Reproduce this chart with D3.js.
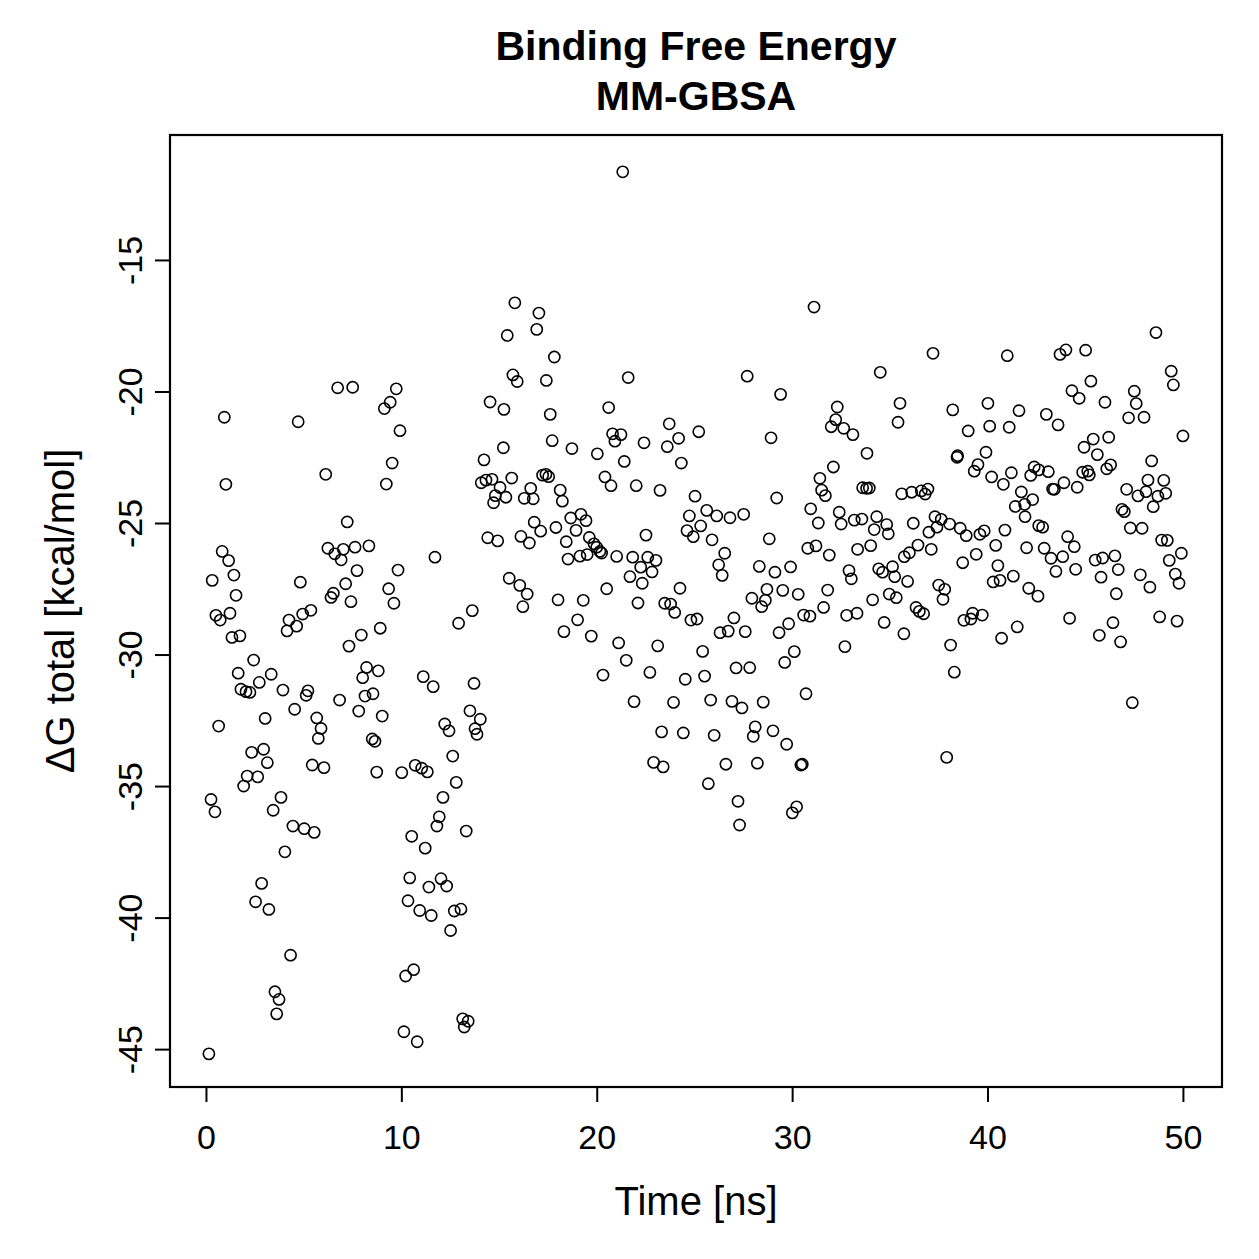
<!DOCTYPE html>
<html><head><meta charset="utf-8">
<script src="https://cdn.jsdelivr.net/npm/d3@7"></script>
<style>body{margin:0;background:#fff}svg{display:block}</style>
</head><body>
<svg id="chart" width="1259" height="1259"></svg>
<script>
// ---- data: [time (ns), ΔG total (kcal/mol)] ----
const segment0to7 = [[0.94,-20.98],[4.72,-21.15],[1.02,-23.53],[6.13,-23.15],[0.83,-26.08],[1.16,-26.43],[1.43,-26.98],[0.32,-27.18],[1.54,-27.75],[1.23,-28.43],[0.51,-28.51],[0.73,-28.69],[1.33,-29.35],[1.74,-29.29],[2.44,-30.21],[1.65,-30.71],[1.79,-31.32],[2.05,-31.41],[2.25,-31.44],[2.73,-31.06],[3.34,-30.75],[3.94,-31.35],[4.54,-32.08],[0.65,-32.72],[3.03,-32.43],[5.22,-31.38],[5.13,-31.55],[6.84,-31.73],[5.67,-32.41],[5.89,-32.81],[5.75,-33.19],[4.83,-27.25],[4.25,-28.69],[4.15,-29.10],[4.64,-28.92],[4.95,-28.46],[5.37,-28.32],[6.24,-25.96],[6.59,-26.17],[6.74,-19.86],[6.40,-27.83],[6.52,-27.67],[6.92,-26.40],[2.34,-33.72],[2.95,-33.60],[3.14,-34.11],[2.11,-34.62],[2.65,-34.65],[1.93,-35.00],[5.44,-34.20],[6.04,-34.30],[0.26,-35.51],[0.46,-35.98],[3.84,-35.43],[3.44,-35.92],[4.45,-36.52],[5.03,-36.62],[5.54,-36.76],[4.04,-37.50],[2.85,-38.70],[2.54,-39.40],[3.22,-39.69],[4.33,-41.43],[3.53,-42.82],[3.74,-43.11],[3.62,-43.66],[0.15,-45.18]];
const segment7to15 = [[7.51,-19.84],[9.74,-19.90],[9.43,-20.41],[9.13,-20.65],[9.93,-21.49],[9.53,-22.72],[9.23,-23.52],[14.54,-20.40],[14.23,-22.60],[14.09,-23.47],[14.33,-23.37],[14.64,-23.34],[14.81,-23.96],[14.72,-24.23],[7.23,-24.96],[14.42,-25.56],[14.93,-25.68],[7.03,-26.00],[7.63,-25.92],[8.34,-25.87],[11.72,-26.30],[7.73,-26.81],[7.15,-27.31],[9.83,-26.79],[9.35,-27.50],[9.62,-28.05],[7.42,-27.99],[8.92,-29.00],[7.95,-29.26],[7.32,-29.68],[13.63,-28.33],[12.93,-28.81],[8.22,-30.49],[8.82,-30.62],[8.02,-30.88],[8.14,-31.58],[8.55,-31.49],[7.82,-32.15],[9.02,-32.34],[11.12,-30.84],[11.63,-31.22],[13.72,-31.10],[13.51,-32.14],[14.04,-32.46],[12.22,-32.64],[12.44,-32.90],[13.77,-32.82],[13.87,-33.03],[8.51,-33.21],[8.65,-33.30],[8.74,-34.47],[10.02,-34.49],[10.71,-34.21],[11.04,-34.32],[11.33,-34.46],[12.63,-33.86],[12.81,-34.86],[12.13,-35.43],[11.94,-36.17],[11.82,-36.52],[13.32,-36.71],[10.53,-36.91],[11.22,-37.36],[10.43,-38.49],[11.41,-38.84],[12.03,-38.52],[12.32,-38.80],[10.34,-39.36],[10.94,-39.73],[11.53,-39.92],[12.71,-39.75],[13.05,-39.68],[12.52,-40.49],[10.63,-41.98],[10.22,-42.22],[13.14,-43.85],[13.42,-43.94],[13.22,-44.16],[10.13,-44.34],[10.81,-44.72]];
const segment15to24 = [[21.33,-11.65],[15.81,-16.63],[17.04,-17.02],[16.93,-17.64],[15.42,-17.87],[17.83,-18.69],[15.71,-19.37],[15.93,-19.62],[17.42,-19.58],[21.61,-19.47],[15.25,-20.68],[17.62,-20.87],[20.61,-20.61],[23.71,-21.23],[23.61,-22.10],[20.81,-21.61],[21.24,-21.64],[20.93,-21.89],[22.42,-21.95],[17.72,-21.87],[18.73,-22.17],[20.03,-22.37],[21.41,-22.66],[15.22,-22.14],[15.65,-23.29],[17.23,-23.18],[17.40,-23.15],[17.54,-23.24],[15.05,-23.65],[15.35,-24.02],[16.62,-23.68],[16.29,-24.06],[16.75,-24.08],[18.13,-23.75],[18.24,-24.17],[20.42,-23.25],[20.73,-23.58],[22.02,-23.58],[23.24,-23.76],[19.19,-24.67],[18.67,-24.81],[19.45,-24.91],[18.94,-25.28],[16.80,-24.97],[17.13,-25.31],[17.91,-25.17],[16.12,-25.51],[16.55,-25.76],[18.44,-25.71],[19.62,-25.55],[19.86,-25.79],[20.00,-25.92],[20.25,-26.14],[20.16,-26.08],[18.53,-26.37],[19.14,-26.26],[19.51,-26.20],[21.02,-26.27],[21.84,-26.30],[22.52,-25.46],[22.61,-26.30],[23.03,-26.42],[22.25,-26.68],[22.83,-26.86],[15.52,-27.10],[16.06,-27.37],[16.44,-27.70],[16.22,-28.18],[18.02,-27.92],[19.31,-27.94],[20.51,-27.50],[21.70,-27.04],[22.33,-27.29],[22.11,-28.04],[23.48,-28.05],[23.78,-28.08],[23.99,-28.40],[19.02,-28.68],[18.32,-29.13],[19.72,-29.30],[21.12,-29.56],[23.12,-29.67],[21.51,-30.22],[20.32,-30.78],[22.72,-30.68],[21.91,-31.79],[23.93,-31.82],[23.32,-32.94],[22.91,-34.10],[23.40,-34.27]];
const segment24to33 = [[31.12,-16.79],[27.70,-19.42],[29.41,-20.11],[25.22,-21.53],[24.19,-21.78],[28.92,-21.76],[32.31,-20.59],[32.23,-21.07],[32.00,-21.34],[32.64,-21.40],[33.11,-21.64],[24.33,-22.72],[32.11,-22.87],[31.42,-23.30],[31.51,-23.75],[31.70,-23.96],[25.03,-23.98],[29.21,-24.05],[24.74,-24.73],[25.63,-24.52],[26.14,-24.73],[26.82,-24.80],[27.52,-24.67],[25.32,-25.11],[24.62,-25.29],[24.94,-25.52],[25.90,-25.64],[26.55,-26.15],[28.83,-25.60],[30.95,-24.46],[31.34,-25.00],[32.41,-24.59],[32.51,-25.04],[33.18,-24.89],[30.80,-25.96],[31.22,-25.87],[31.90,-26.22],[33.35,-26.00],[26.24,-26.59],[26.42,-26.99],[24.26,-27.48],[24.82,-28.69],[25.13,-28.65],[28.32,-26.65],[29.12,-26.87],[29.92,-26.67],[32.91,-26.81],[33.03,-27.12],[27.94,-27.86],[28.71,-27.52],[28.63,-27.94],[28.44,-28.18],[29.52,-27.56],[30.31,-27.71],[31.82,-27.55],[31.61,-28.21],[30.59,-28.50],[30.91,-28.54],[32.79,-28.51],[33.32,-28.43],[27.02,-28.61],[26.31,-29.17],[26.73,-29.11],[27.60,-29.13],[29.82,-28.83],[29.33,-29.17],[32.70,-29.70],[25.42,-29.88],[30.11,-29.89],[29.62,-30.30],[27.13,-30.51],[27.83,-30.50],[24.53,-30.94],[25.52,-30.82],[30.71,-31.49],[25.83,-31.73],[26.92,-31.78],[27.43,-32.03],[28.52,-31.81],[24.43,-32.98],[26.01,-33.07],[28.11,-32.75],[28.01,-33.11],[29.02,-32.90],[29.72,-33.41],[26.61,-34.17],[28.22,-34.13],[30.45,-34.20],[30.52,-34.17],[25.71,-34.91],[27.23,-35.58],[30.23,-35.79],[30.01,-36.02],[27.31,-36.48]];
const segment33to43 = [[37.21,-18.55],[41.01,-18.64],[34.51,-19.27],[35.52,-20.45],[35.42,-21.17],[38.22,-20.70],[40.02,-20.45],[41.61,-20.73],[39.01,-21.50],[40.11,-21.32],[41.11,-21.36],[33.83,-22.35],[39.92,-22.31],[38.47,-22.44],[38.44,-22.50],[39.51,-22.78],[39.32,-23.03],[40.21,-23.25],[41.22,-23.09],[40.81,-23.53],[42.39,-22.87],[42.21,-23.19],[42.62,-22.98],[33.61,-23.66],[33.81,-23.68],[33.95,-23.67],[35.61,-23.89],[36.12,-23.83],[36.61,-23.78],[36.81,-23.90],[36.95,-23.71],[41.73,-23.82],[41.42,-24.37],[41.90,-24.29],[42.31,-24.11],[41.92,-24.76],[33.57,-24.85],[34.33,-24.76],[34.84,-25.06],[34.92,-25.41],[34.20,-25.25],[36.20,-25.01],[37.31,-24.76],[37.63,-24.86],[37.41,-25.16],[37.00,-25.35],[38.06,-25.04],[38.60,-25.20],[38.91,-25.48],[39.61,-25.43],[39.83,-25.30],[40.89,-25.27],[34.02,-25.86],[36.44,-25.84],[37.12,-26.00],[36.00,-26.13],[35.74,-26.28],[40.42,-25.85],[42.00,-25.94],[39.42,-26.19],[38.73,-26.51],[40.53,-26.62],[34.43,-26.74],[34.63,-26.87],[35.14,-26.66],[35.25,-27.04],[35.91,-27.22],[37.50,-27.36],[37.81,-27.52],[37.72,-27.90],[40.29,-27.24],[40.64,-27.18],[41.32,-27.02],[42.11,-27.48],[42.58,-27.78],[34.12,-27.92],[34.97,-27.70],[35.33,-27.84],[36.34,-28.21],[36.51,-28.36],[36.73,-28.45],[34.71,-28.78],[35.72,-29.21],[38.79,-28.70],[39.15,-28.65],[39.24,-28.43],[39.73,-28.50],[40.72,-29.38],[41.52,-28.95],[38.11,-29.64],[38.30,-30.67],[37.91,-33.91]];
const segment43to50 = [[48.62,-17.76],[43.71,-18.59],[44.01,-18.42],[45.02,-18.43],[49.40,-19.23],[49.51,-19.75],[45.29,-19.61],[44.32,-19.97],[44.69,-20.26],[46.01,-20.41],[47.51,-19.99],[47.61,-20.46],[47.22,-21.00],[48.01,-20.98],[43.01,-20.87],[43.61,-21.27],[50.00,-21.69],[45.41,-21.81],[46.20,-21.74],[44.94,-22.12],[45.62,-22.40],[48.40,-22.64],[43.11,-23.05],[46.10,-22.94],[46.30,-22.79],[44.87,-23.07],[45.13,-23.03],[45.21,-23.17],[43.91,-23.47],[44.59,-23.64],[43.33,-23.71],[43.42,-23.72],[48.21,-23.37],[49.02,-23.38],[47.12,-23.72],[47.70,-23.97],[48.11,-23.81],[48.72,-23.98],[49.12,-23.87],[48.48,-24.38],[46.88,-24.48],[47.00,-24.57],[42.62,-25.10],[42.82,-25.16],[47.31,-25.19],[47.91,-25.20],[44.10,-25.52],[44.44,-25.90],[48.91,-25.65],[49.20,-25.66],[42.90,-25.96],[49.92,-26.15],[43.25,-26.34],[43.85,-26.28],[45.89,-26.33],[46.52,-26.25],[45.51,-26.41],[49.30,-26.42],[43.50,-26.84],[44.51,-26.76],[45.81,-27.06],[46.69,-26.77],[47.82,-26.97],[48.31,-27.44],[49.61,-26.94],[49.80,-27.29],[46.59,-27.69],[44.20,-28.62],[46.42,-28.79],[45.72,-29.27],[46.81,-29.52],[48.81,-28.57],[49.70,-28.73],[47.41,-31.83]];

const xTicks = [0, 10, 20, 30, 40, 50];
const yTicks = [-15, -20, -25, -30, -35, -40, -45];
const titleLines = ["Binding Free Energy", "MM-GBSA"];
const xLabel = "Time [ns]";
const yLabel = "ΔG total [kcal/mol]";

const points = [].concat(segment0to7, segment7to15, segment15to24, segment24to33, segment33to43, segment43to50);

// ---- layout ----
const FONT = "'Liberation Sans', Arial, Helvetica, sans-serif";
const L = 170, R = 1222, T = 135, B = 1087;
const svg = d3.select("#chart");
svg.append("rect").attr("width",1259).attr("height",1259).attr("fill","#fff");

const x = d3.scaleLinear().domain([-1.84, 52.0]).range([L, R]);
const y = d3.scaleLinear().domain([-46.44, -10.25]).range([B, T]);
const plainNum = d => String(d); // hyphen-minus, as in the reference

// points
svg.append("g").selectAll("circle").data(points).join("circle")
  .attr("cx", d => x(d[0])).attr("cy", d => y(d[1]))
  .attr("r", 5.6).attr("fill", "none").attr("stroke", "#000").attr("stroke-width", 1.6);

// x axis
const gx = svg.append("g").attr("transform", `translate(0,${B})`)
  .call(d3.axisBottom(x).tickValues(xTicks).tickSize(15).tickFormat(plainNum));
gx.select(".domain").remove();
gx.selectAll(".tick line").attr("stroke", "#000").attr("stroke-width", 2);
gx.selectAll(".tick text").attr("y", 62).attr("dy", 0)
  .attr("font-family", FONT).attr("font-size", 34).attr("fill", "#000");
gx.append("line").attr("x1", x(xTicks[0])).attr("x2", x(xTicks[xTicks.length-1]))
  .attr("stroke", "#000").attr("stroke-width", 2);

// y axis
const gy = svg.append("g").attr("transform", `translate(${L},0)`)
  .call(d3.axisLeft(y).tickValues(yTicks).tickSize(15).tickFormat(plainNum));
gy.select(".domain").remove();
gy.selectAll(".tick line").attr("stroke", "#000").attr("stroke-width", 2);
gy.selectAll(".tick text").attr("transform", "rotate(-90)")
  .attr("x", 0).attr("y", -28).attr("dy", 0).attr("text-anchor", "middle")
  .attr("font-family", FONT).attr("font-size", 34).attr("fill", "#000");

// box
svg.append("rect").attr("x", L).attr("y", T).attr("width", R - L).attr("height", B - T)
  .attr("fill", "none").attr("stroke", "#000").attr("stroke-width", 2.2);

// titles
svg.append("g").selectAll("text").data(titleLines).join("text")
  .attr("x", (L + R) / 2).attr("y", (d, i) => 60 + i * 50)
  .attr("text-anchor", "middle").attr("font-family", FONT)
  .attr("font-weight", "bold").attr("font-size", 41).attr("fill", "#000")
  .text(d => d);

svg.append("text").attr("x", (L + R) / 2).attr("y", 1215)
  .attr("text-anchor", "middle").attr("font-family", FONT)
  .attr("font-size", 40).attr("fill", "#000").text(xLabel);

svg.append("text").attr("transform", `translate(74,${(T + B) / 2}) rotate(-90)`)
  .attr("text-anchor", "middle").attr("font-family", FONT)
  .attr("font-size", 40).attr("fill", "#000").text(yLabel);
</script>
</body></html>
